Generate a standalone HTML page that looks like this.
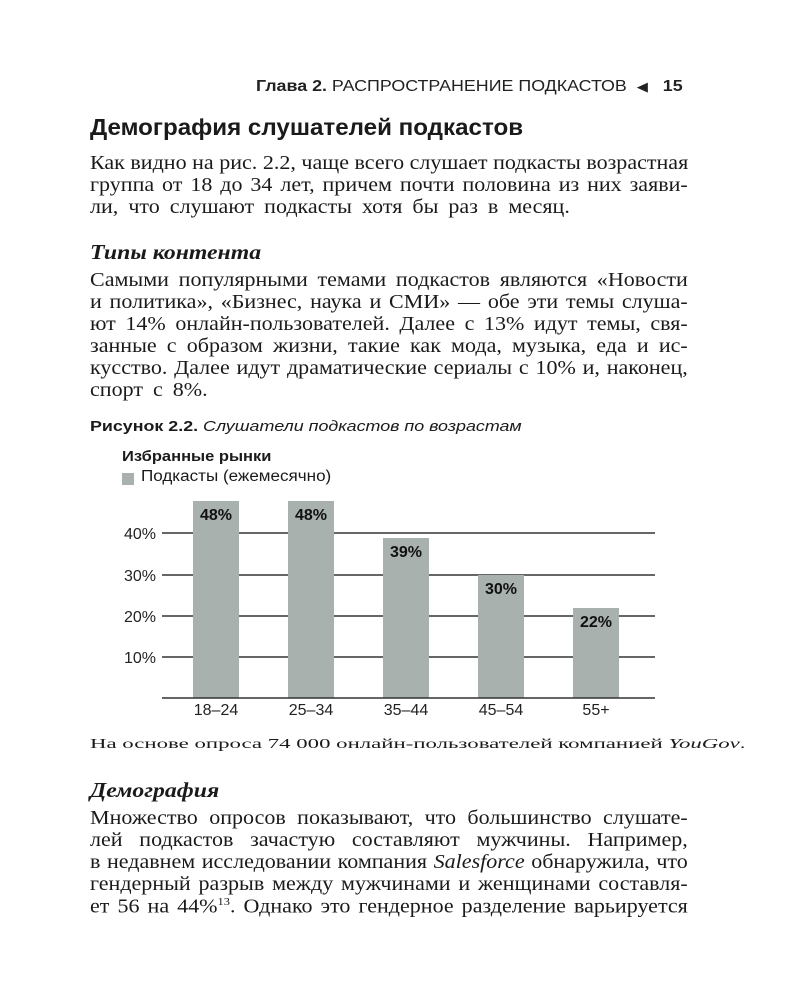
<!DOCTYPE html>
<html><head><meta charset="utf-8"><style>
body{margin:0;width:800px;height:1000px;background:#fff;position:relative;overflow:hidden;color:#1a1a1a}
.a{position:absolute;white-space:nowrap;transform-origin:0 0}
.s{font-family:"Liberation Sans","DejaVu Sans",sans-serif}
.r{font-family:"Liberation Serif","DejaVu Serif",serif;font-size:19.5px;transform:scaleX(1.13)}
.j{width:529px;text-align:justify;text-align-last:justify}
.w{word-spacing:4px}
</style></head><body>
<div class="a s" style="left:256px;top:78px;font-size:16px;color:#222;transform:scaleX(1.115)"><b>Глава 2.</b> РАСПРОСТРАНЕНИЕ ПОДКАСТОВ &nbsp;<span style="font-size:13px">◀</span>&nbsp;&nbsp; <b>15</b></div>
<div class="a s" style="left:90px;top:114px;font-size:23px;font-weight:bold;transform:scaleX(1.05)">Демография слушателей подкастов</div>
<div class="a r j" style="left:90px;top:153px">Как видно на рис. 2.2, чаще всего слушает подкасты возрастная</div>
<div class="a r j" style="left:90px;top:175px">группа от 18 до 34 лет, причем почти половина из них заяви-</div>
<div class="a r w" style="left:90px;top:197px">ли, что слушают подкасты хотя бы раз в месяц.</div>
<div class="a r" style="left:90px;top:240px;font-weight:bold;font-style:italic;font-size:21px">Типы контента</div>
<div class="a r j" style="left:90px;top:270px">Самыми популярными темами подкастов являются «Новости</div>
<div class="a r j" style="left:90px;top:292px">и политика», «Бизнес, наука и СМИ» — обе эти темы слуша-</div>
<div class="a r j" style="left:90px;top:314px">ют 14% онлайн-пользователей. Далее с 13% идут темы, свя-</div>
<div class="a r j" style="left:90px;top:336px">занные с образом жизни, такие как мода, музыка, еда и ис-</div>
<div class="a r j" style="left:90px;top:358px">кусство. Далее идут драматические сериалы с 10% и, наконец,</div>
<div class="a r w" style="left:90px;top:380px">спорт с 8%.</div>
<div class="a s" style="left:90px;top:418px;font-size:15px;transform:scaleX(1.19)"><b>Рисунок 2.2.</b> <i>Слушатели подкастов по возрастам</i></div>
<div class="a s" style="left:122px;top:448px;font-size:15px;font-weight:bold;transform:scaleX(1.1)">Избранные рынки</div>
<div style="position:absolute;left:122px;top:473px;width:12px;height:12px;background:#a8b1ae"></div>
<div class="a s" style="left:141px;top:468px;font-size:15.5px;transform:scaleX(1.1)">Подкасты (ежемесячно)</div>
<svg style="position:absolute;left:0;top:0" width="800" height="1000" font-family="Liberation Sans,sans-serif" font-size="16">
<g stroke="#333" stroke-width="1.6">
<line x1="162" x2="655" y1="533" y2="533"/><line x1="162" x2="655" y1="575" y2="575"/>
<line x1="162" x2="655" y1="616" y2="616"/><line x1="162" x2="655" y1="657" y2="657"/>
</g>
<g fill="#a8b1ae">
<rect x="193" y="501" width="46" height="197"/><rect x="288" y="501" width="46" height="197"/>
<rect x="383" y="538" width="46" height="160"/><rect x="478" y="575" width="46" height="123"/>
<rect x="573" y="608" width="46" height="90"/>
</g>
<line x1="162" x2="655" y1="698" y2="698" stroke="#333" stroke-width="1.6"/>
<g text-anchor="end" fill="#222"><text x="156" y="539">40%</text><text x="156" y="581">30%</text><text x="156" y="622">20%</text><text x="156" y="663">10%</text></g>
<g text-anchor="middle" fill="#111" font-weight="bold"><text x="216" y="520">48%</text><text x="311" y="520">48%</text><text x="406" y="557">39%</text><text x="501" y="594">30%</text><text x="596" y="627">22%</text></g>
<g text-anchor="middle" fill="#222"><text x="216" y="715">18–24</text><text x="311" y="715">25–34</text><text x="406" y="715">35–44</text><text x="501" y="715">45–54</text><text x="596" y="715">55+</text></g>
</svg>
<div class="a" style="left:90px;top:736px;font-family:'Liberation Serif',serif;font-size:13.5px;transform:scaleX(1.69)">На основе опроса 74 000 онлайн-пользователей компанией <i>YouGov</i>.</div>
<div class="a r" style="left:90px;top:778px;font-weight:bold;font-style:italic;font-size:21px">Демография</div>
<div class="a r j" style="left:90px;top:808px">Множество опросов показывают, что большинство слушате-</div>
<div class="a r j" style="left:90px;top:830px">лей подкастов зачастую составляют мужчины. Например,</div>
<div class="a r j" style="left:90px;top:852px">в недавнем исследовании компания <i>Salesforce</i> обнаружила, что</div>
<div class="a r j" style="left:90px;top:874px">гендерный разрыв между мужчинами и женщинами составля-</div>
<div class="a r j" style="left:90px;top:896px">ет 56 на 44%<sup style="font-size:11px">13</sup>. Однако это гендерное разделение варьируется</div>
</body></html>
